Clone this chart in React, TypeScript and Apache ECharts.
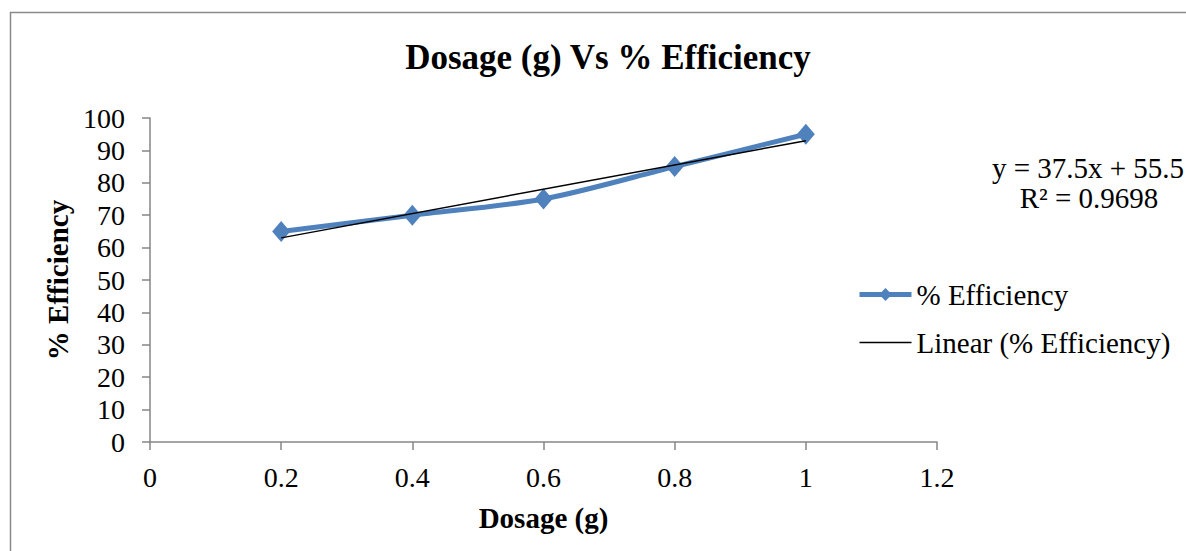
import React, { useEffect, useRef } from "react";
import * as echarts from "echarts";

const dosage = [0.2, 0.4, 0.6, 0.8, 1.0];
const efficiency = [65, 70, 75, 85, 95];
const trendSlope = 37.5;
const trendIntercept = 55.5;
const trendX = [0.2, 1.0];
const equationLines = ["y = 37.5x + 55.5", "R² = 0.9698"];

const FONT = "'Liberation Serif', 'Times New Roman', serif";

export default function App() {
  const ref = useRef<HTMLDivElement>(null);
  useEffect(() => {
    if (!ref.current) return;
    const chart = echarts.init(ref.current, undefined, { renderer: "svg" });
    const seriesData = dosage.map((x, i) => [x, efficiency[i]]);
    const trendData = trendX.map((x) => [x, trendSlope * x + trendIntercept]);
    chart.setOption({
      animation: false,
      backgroundColor: "#ffffff",
      textStyle: { fontFamily: FONT },
      title: {
        text: "Dosage (g) Vs % Efficiency",
        left: 603,
        top: 35,
        textAlign: "center",
        textStyle: { fontFamily: FONT, fontWeight: "bold", fontSize: 35, color: "#000" },
      },
      grid: { left: 150, right: 249, top: 118, bottom: 109, containLabel: false },
      xAxis: {
        type: "value",
        min: 0,
        max: 1.2,
        interval: 0.2,
        name: "Dosage (g)",
        nameLocation: "middle",
        nameGap: 61,
        nameTextStyle: { fontFamily: FONT, fontWeight: "bold", fontSize: 29, color: "#000" },
        axisLine: { show: true, lineStyle: { color: "#868686", width: 1.5 } },
        axisTick: { show: true, length: 8, lineStyle: { color: "#868686", width: 1.5 } },
        axisLabel: { fontFamily: FONT, fontSize: 28, color: "#000", margin: 21 },
        splitLine: { show: false },
      },
      yAxis: {
        type: "value",
        min: 0,
        max: 100,
        interval: 10,
        name: "% Efficiency",
        nameLocation: "middle",
        nameGap: 77,
        nameRotate: 90,
        nameTextStyle: { fontFamily: FONT, fontWeight: "bold", fontSize: 29, color: "#000" },
        axisLine: { show: true, lineStyle: { color: "#868686", width: 1.5 } },
        axisTick: { show: true, length: 8, lineStyle: { color: "#868686", width: 1.5 } },
        axisLabel: { fontFamily: FONT, fontSize: 28, color: "#000", margin: 25 },
        splitLine: { show: false },
      },
      legend: {
        orient: "vertical",
        left: 852,
        top: 275,
        itemWidth: 52,
        itemHeight: 16,
        itemGap: 19,
        textStyle: { fontFamily: FONT, fontSize: 29, color: "#000" },
        data: [
          { name: "% Efficiency", lineStyle: { width: 5 } },
          { name: "Linear (% Efficiency)", itemStyle: { opacity: 0 }, lineStyle: { width: 1.5, color: "#000" } },
        ],
      },
      series: [
        {
          name: "% Efficiency",
          type: "line",
          data: seriesData,
          smooth: 0.3,
          symbol: "diamond",
          symbolSize: [18, 21],
          lineStyle: { color: "#4F81BD", width: 5 },
          itemStyle: { color: "#4F81BD" },
          z: 2,
        },
        {
          name: "Linear (% Efficiency)",
          type: "line",
          data: trendData,
          symbol: "none",
          lineStyle: { color: "#000000", width: 1.5 },
          itemStyle: { color: "#000000" },
          z: 3,
        },
      ],
      graphic: [
        {
          type: "rect",
          shape: { x: 10.5, y: 12.5, width: 1200, height: 600 },
          style: { fill: "none", stroke: "#8a8a8a", lineWidth: 1.5 },
          silent: true,
          z: -1,
        },
        {
          type: "text",
          x: 1088,
          y: 168,
          style: {
            text: equationLines[0],
            fontFamily: FONT,
            fontSize: 29,
            fill: "#000",
            textAlign: "center",
            textVerticalAlign: "middle",
          },
        },
        {
          type: "text",
          x: 1089,
          y: 198,
          style: {
            text: equationLines[1],
            fontFamily: FONT,
            fontSize: 29,
            fill: "#000",
            textAlign: "center",
            textVerticalAlign: "middle",
          },
        },
      ],
    });
    return () => chart.dispose();
  }, []);
  return <div ref={ref} style={{ width: 1186, height: 551, position: "absolute", left: 0, top: 0 }} />;
}
